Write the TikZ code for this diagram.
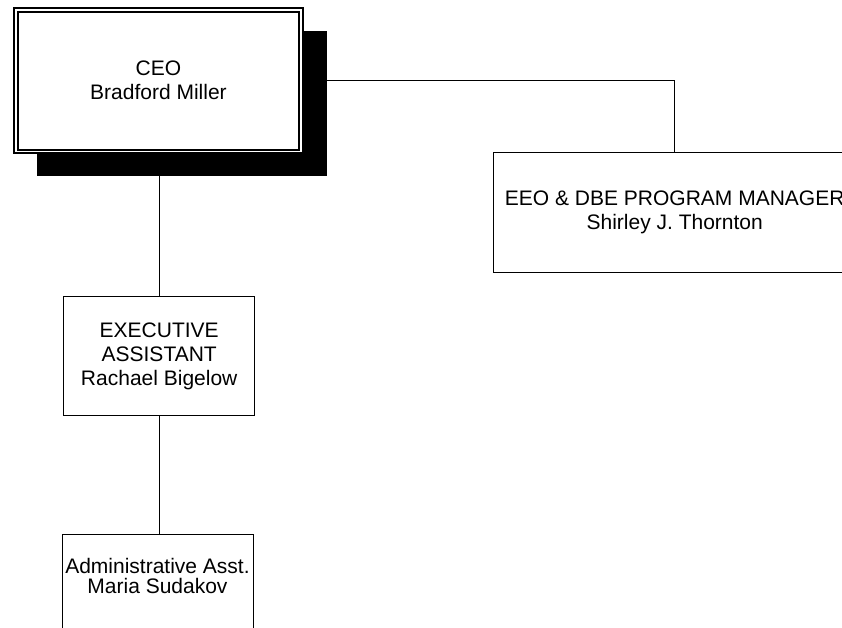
\documentclass[tikz,border=0pt]{standalone}
\usepackage{fontspec}
\setmainfont{Liberation Sans}
\begin{document}
\begin{tikzpicture}[x=1bp,y=-1bp,
  box/.style={draw=black, line width=1.4bp, fill=white, inner sep=0pt, anchor=north west,
    align=center, font=\fontsize{21bp}{24bp}\selectfont},
  shadowbox/.style={fill=black, draw=none, inner sep=0pt, anchor=north west},
  lbl/.style={align=center, inner sep=0pt, font=\fontsize{21bp}{19.5bp}\selectfont},
  conn/.style={draw=black, line width=1.4bp}]
\useasboundingbox (0,0) rectangle (842,628);
\clip (0,0) rectangle (842,628);
% CEO shadow and box
\node[shadowbox, minimum width=290bp, minimum height=145bp] (ceoshadow) at (37,31) {};
\node[box, line width=2bp, minimum width=289bp, minimum height=145bp] (ceo) at (13,7) {CEO\\Bradford Miller};
\draw[line width=1.4bp] ([shift={(5,5)}]ceo.north west) rectangle ([shift={(-5,-4)}]ceo.south east);
% other boxes
\node[box, minimum width=362bp, minimum height=120bp] (eeo) at (493,152) {EEO \& DBE PROGRAM MANAGER\\Shirley J. Thornton};
\node[box, minimum width=191bp, minimum height=119bp] (exec) at (63,296) {EXECUTIVE\\ASSISTANT\\Rachael Bigelow};
\node[box, minimum width=191bp, minimum height=119bp] (admin) at (62,534) {};
\node[lbl] (admintext) at (157.5,576) {Administrative Asst.\\Maria Sudakov};
% connectors
\draw[conn] (ceoshadow.east |- ceo.east) -| (eeo.north);
\draw[conn] (exec.north |- ceoshadow.south) -- (exec.north);
\draw[conn] (exec.south) -- (exec.south |- admin.north);
\end{tikzpicture}
\end{document}
